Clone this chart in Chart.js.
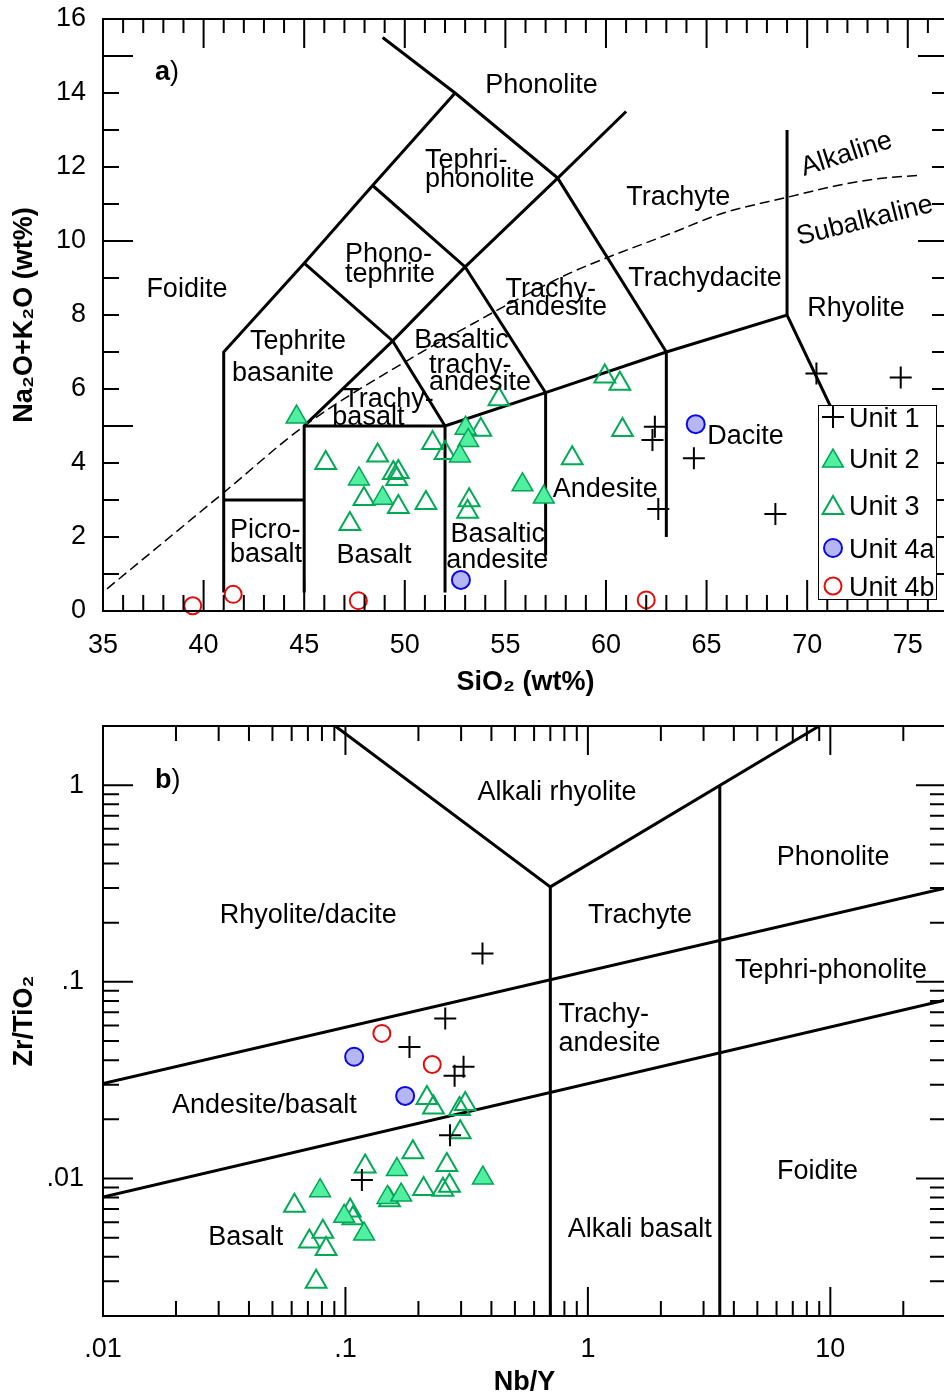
<!DOCTYPE html>
<html lang="en">
<head>
  <meta charset="UTF-8" />
  <title>TAS and Zr/TiO2 vs Nb/Y</title>
  <script src="https://cdn.jsdelivr.net/npm/chart.js"></script>
  <style>
    html, body { margin: 0; padding: 0; background: #fff; overflow: hidden; }
    .panel { position: absolute; left: 0; }
    #panelA { top: 0; }
    #panelB { top: 700px; }
  </style>
</head>
<body>
<div class="panel" id="panelA"><canvas id="tas" width="980" height="700"></canvas></div>
<div class="panel" id="panelB"><canvas id="wf" width="980" height="699"></canvas></div>

<script>
  // ---- panel a : SiO2 vs Na2O+K2O ----
  const siO2Ticks = [35, 40, 45, 50, 55, 60, 65, 70, 75];
  const alkTicks = [0, 2, 4, 6, 8, 10, 12, 14, 16];

  const unit1SiO2 = [70.46, 74.65, 62.43, 62.31, 64.37, 62.6, 68.42];
  const unit1Alk  = [6.42, 6.31, 4.98, 4.62, 4.13, 2.76, 2.62];
  const unit2SiO2 = [44.62, 47.72, 48.9, 53.02, 53.15, 52.74, 55.85, 56.91];
  const unit2Alk  = [5.24, 3.57, 3.05, 4.94, 4.61, 4.19, 3.41, 3.08];
  const unit3SiO2 = [46.07, 48.65, 49.43, 49.68, 49.6, 47.97, 49.68, 51.05, 47.27, 51.38, 52.0, 53.78, 54.68, 53.2, 53.12, 59.94, 60.69, 60.82, 58.32];
  const unit3Alk  = [4.0, 4.2, 3.73, 3.76, 3.57, 3.03, 2.81, 2.92, 2.35, 4.54, 4.27, 4.9, 5.72, 2.99, 2.68, 6.34, 6.14, 4.89, 4.13];
  const unit4aSiO2 = [64.46, 52.79];
  const unit4aAlk  = [5.05, 0.84];
  const unit4bSiO2 = [39.46, 41.47, 47.69, 62.0];
  const unit4bAlk  = [0.14, 0.45, 0.28, 0.30];

  // field boundaries (Le Bas et al.)
  const tasLines = [
    [[41, 0.5], [41, 7], [45, 9.4], [48.4, 11.5], [52.5, 14]],
    [[45, 0.5], [45, 5], [49.4, 7.3], [53, 9.3], [57.6, 11.7], [61, 13.5]],
    [[41, 3], [45, 3]],
    [[45, 5], [52, 5], [57, 5.9], [63, 7], [69, 8], [75.56, 0.5]],
    [[52, 0.5], [52, 5]],
    [[57, 1.5], [57, 5.9]],
    [[63, 2], [63, 7]],
    [[69, 8], [69, 13]],
    [[45, 9.4], [49.4, 7.3], [52, 5]],
    [[48.4, 11.5], [53, 9.3], [57, 5.9]],
    [[48.9, 15.5], [52.5, 14], [57.6, 11.7], [63, 7]]
  ];
  // alkaline / subalkaline divide
  const alkDivSiO2 = [35.2, 41, 45, 50.6, 53.4, 54.9, 58.2, 60.2, 63.2, 65.8, 69, 71.5, 73.5, 75.6];
  const alkDivAlk  = [0.6, 3.2, 5.0, 6.92, 7.77, 8.22, 9.13, 9.58, 10.2, 10.75, 11.18, 11.5, 11.68, 11.78];

  // ---- panel b : Nb/Y vs Zr/TiO2 ----
  const nbYTicks = [0.01, 0.1, 1, 10];
  const nbYTickLabels = ['.01', '.1', '1', '10'];
  const zrTiTicks = [0.01, 0.1, 1];
  const zrTiTickLabels = ['.01', '.1', '1'];

  const unit1NbY  = [0.3675, 0.258, 0.1837, 0.307, 0.282, 0.270, 0.1169];
  const unit1ZrTi = [0.1394, 0.0651, 0.0467, 0.037, 0.0333, 0.01662, 0.00982];
  const unit2NbY  = [0.163, 0.0786, 0.149, 0.1698, 0.0988, 0.1194, 0.3689];
  const unit2ZrTi = [0.0111, 0.00868, 0.00802, 0.00824, 0.00643, 0.00522, 0.01006];
  const unit3NbY  = [0.2168, 0.2307, 0.312, 0.2954, 0.2974, 0.1897, 0.1206, 0.262, 0.21, 0.2523, 0.2687, 0.0616, 0.1046, 0.1073, 0.0807, 0.0710, 0.0832, 0.0757, 0.152];
  const unit3ZrTi = [0.02566, 0.0230, 0.0239, 0.02256, 0.01717, 0.01359, 0.01153, 0.01171, 0.00885, 0.00878, 0.0092, 0.00728, 0.00687, 0.00628, 0.00537, 0.00478, 0.00438, 0.00299, 0.00775];
  const unit4aNbY  = [0.1086, 0.1763];
  const unit4aZrTi = [0.0416, 0.0263];
  const unit4bNbY  = [0.1413, 0.228];
  const unit4bZrTi = [0.0547, 0.038];

  // field boundaries (Winchester & Floyd)
  const wfLines = [
    [[0.01, 0.00806], [30, 0.0808]],
    [[0.01, 0.0304], [30, 0.300]],
    [[0.0907, 2], [0.7, 0.304], [9, 2]],
    [[0.7, 0.002], [0.7, 0.304]],
    [[3.5, 0.002], [3.5, 1.0]]
  ];

  const FONT = '"Liberation Sans", Arial, sans-serif';
  const LABEL_PX = 27;
  const TEXT_DY = 2.5; // canvas 'middle' sits a little high for this font
  const zip = (xs, ys) => xs.map((v, i) => ({ x: v, y: ys[i] }));

  const styles = {
    unit1:  { pointStyle: 'cross', radius: 11, fill: 'rgba(0,0,0,0)', stroke: '#000', lw: 2 },
    unit2:  { pointStyle: 'triangle', radius: 12, fill: 'rgb(80,240,160)', stroke: 'rgb(0,165,85)', lw: 1.5 },
    unit3:  { pointStyle: 'triangle', radius: 12, fill: 'rgba(0,0,0,0)', stroke: 'rgb(0,170,85)', lw: 2 },
    unit4a: { pointStyle: 'circle', radius: 9, fill: 'rgb(182,182,242)', stroke: 'rgb(10,10,230)', lw: 2 },
    unit4b: { pointStyle: 'circle', radius: 8.5, fill: 'rgba(0,0,0,0)', stroke: 'rgb(230,10,10)', lw: 2 }
  };

  function unitSet(label, key, data) {
    const s = styles[key];
    return {
      label, data, showLine: false, clip: false,
      pointStyle: s.pointStyle, pointRadius: s.radius,
      pointBackgroundColor: s.fill, pointBorderColor: s.stroke, pointBorderWidth: s.lw
    };
  }
  function boundarySets(lines) {
    return lines.map(l => ({
      label: 'boundary', data: l.map(p => ({ x: p[0], y: p[1] })),
      showLine: true, pointRadius: 0, borderColor: '#000', borderWidth: 3, fill: false
    }));
  }

  function drawMarker(ctx, s, x, y) {
    ctx.save();
    ctx.lineWidth = s.lw; ctx.strokeStyle = s.stroke; ctx.fillStyle = s.fill;
    ctx.beginPath();
    const r = s.radius;
    if (s.pointStyle === 'cross') {
      ctx.moveTo(x - r, y); ctx.lineTo(x + r, y);
      ctx.moveTo(x, y - r); ctx.lineTo(x, y + r);
      ctx.stroke();
    } else if (s.pointStyle === 'triangle') {
      ctx.moveTo(x, y - r); ctx.lineTo(x + r * 0.866, y + r / 2); ctx.lineTo(x - r * 0.866, y + r / 2);
      ctx.closePath(); ctx.fill(); ctx.stroke();
    } else {
      ctx.arc(x, y, r, 0, Math.PI * 2); ctx.fill(); ctx.stroke();
    }
    ctx.restore();
  }

  function drawLabels(chart, labels) {
    const { ctx, scales: { x, y } } = chart;
    ctx.save();
    ctx.fillStyle = '#000';
    ctx.textBaseline = 'middle';
    labels.forEach(l => {
      const px = x.getPixelForValue(l.x), py = y.getPixelForValue(l.y) + TEXT_DY;
      if (l.parts) {
        let cx = px;
        ctx.textAlign = 'left';
        l.parts.forEach(([t, bold]) => {
          ctx.font = (bold ? 'bold ' : '') + LABEL_PX + 'px ' + FONT;
          ctx.fillText(t, cx, py);
          cx += ctx.measureText(t).width;
        });
        return;
      }
      ctx.font = LABEL_PX + 'px ' + FONT;
      ctx.textAlign = l.a || 'left';
      if (l.rot) {
        ctx.save(); ctx.translate(px, py); ctx.rotate(l.rot * Math.PI / 180);
        ctx.fillText(l.t, 0, 0); ctx.restore();
      } else {
        ctx.fillText(l.t, px, py);
      }
    });
    ctx.restore();
  }

  function drawFrame(ctx, a) {
    ctx.beginPath();
    ctx.moveTo(a.right + 3, a.top); ctx.lineTo(a.left, a.top);
    ctx.lineTo(a.left, a.bottom); ctx.lineTo(a.right + 3, a.bottom);
    ctx.stroke();
  }

  // nudge layout padding until the plot area sits where the figure has it
  function fitArea(chart, target) {
    for (let k = 0; k < 3; k++) {
      const a = chart.chartArea;
      const p = chart.options.layout.padding;
      p.top += target.top - a.top;
      p.right += a.right - target.right;
      chart.update();
    }
  }

  // ---------------- panel a ----------------
  const tasLabels = [
    { t: 'Phonolite', x: 56.8, y: 14.27, a: 'center' },
    { t: 'Tephri-', x: 51.0, y: 12.24 },
    { t: 'phonolite', x: 51.0, y: 11.73 },
    { t: 'Trachyte', x: 63.59, y: 11.24, a: 'center' },
    { t: 'Phono-', x: 47.03, y: 9.70 },
    { t: 'tephrite', x: 47.03, y: 9.17 },
    { t: 'Foidite', x: 39.17, y: 8.76, a: 'center' },
    { t: 'Trachy-', x: 55.01, y: 8.76 },
    { t: 'andesite', x: 54.98, y: 8.27 },
    { t: 'Trachydacite', x: 61.11, y: 9.05 },
    { t: 'Rhyolite', x: 70.0, y: 8.24 },
    { t: 'Tephrite', x: 42.31, y: 7.35 },
    { t: 'basanite', x: 41.41, y: 6.49 },
    { t: 'Basaltic', x: 50.47, y: 7.37 },
    { t: 'trachy-', x: 51.2, y: 6.69 },
    { t: 'andesite', x: 51.2, y: 6.24 },
    { t: 'Trachy-', x: 46.94, y: 5.79 },
    { t: 'basalt', x: 46.4, y: 5.30 },
    { t: 'Picro-', x: 41.31, y: 2.24 },
    { t: 'basalt', x: 41.31, y: 1.58 },
    { t: 'Basalt', x: 46.61, y: 1.56 },
    { t: 'Basaltic', x: 56.97, y: 2.14, a: 'right' },
    { t: 'andesite', x: 57.13, y: 1.42, a: 'right' },
    { t: 'Andesite', x: 57.35, y: 3.36 },
    { t: 'Dacite', x: 65.03, y: 4.78 },
    { t: 'Alkaline', x: 71.96, y: 12.41, a: 'center', rot: -18 },
    { t: 'Subalkaline', x: 72.87, y: 10.61, a: 'center', rot: -14 },
    { parts: [['a', true], [')', false]], x: 37.58, y: 14.62 }
  ];

  const tasDecor = {
    id: 'tasDecor',
    afterDraw(chart) {
      const { ctx, chartArea: a, scales: { x, y } } = chart;
      ctx.save();
      ctx.strokeStyle = '#000'; ctx.lineWidth = 2;
      drawFrame(ctx, a);
      ctx.beginPath();
      for (let v = 35; v <= 77; v++) {
        const px = x.getPixelForValue(v);
        const topLen = v % 5 === 0 ? 29 : 14;
        const botLen = v % 5 === 0 ? 31 : 16;
        ctx.moveTo(px, a.top); ctx.lineTo(px, a.top + topLen);
        ctx.moveTo(px, a.bottom); ctx.lineTo(px, a.bottom - botLen);
      }
      for (let v = 0; v <= 16; v++) {
        const py = y.getPixelForValue(v);
        const len = v % 5 === 0 ? 30 : 16;
        ctx.moveTo(a.left, py); ctx.lineTo(a.left + len, py);
        ctx.moveTo(a.right, py); ctx.lineTo(a.right - len, py);
      }
      ctx.stroke();
      ctx.restore();

      drawLabels(chart, tasLabels);

      // legend box
      const bx = a.right - 130, by = 405, bw = 118, bh = 194;
      ctx.save();
      ctx.fillStyle = '#fff'; ctx.fillRect(bx, by, bw, bh);
      ctx.strokeStyle = '#000'; ctx.lineWidth = 1; ctx.strokeRect(bx + 0.5, by + 0.5, bw, bh);
      const rows = [
        ['Unit 1', 'unit1', 417], ['Unit 2', 'unit2', 458], ['Unit 3', 'unit3', 505],
        ['Unit 4a', 'unit4a', 548], ['Unit 4b', 'unit4b', 586]
      ];
      ctx.font = LABEL_PX + 'px ' + FONT;
      ctx.textAlign = 'left'; ctx.textBaseline = 'middle';
      rows.forEach(([t, key, ry]) => {
        const s = styles[key];
        drawMarker(ctx, s, bx + 15, s.pointStyle === 'triangle' ? ry + 3 : ry);
        ctx.fillStyle = '#000';
        ctx.fillText(t, bx + 31, ry + TEXT_DY);
      });
      ctx.restore();
    }
  };

  // tick labels are pushed off the axis with an invisible tick length,
  // so that the label gap does not enlarge the plot's own padding
  const hiddenGrid = len => ({ display: false, drawTicks: true, tickLength: len });

  const tasChart = new Chart(document.getElementById('tas'), {
    type: 'scatter',
    data: {
      datasets: [
        unitSet('Unit 1', 'unit1', zip(unit1SiO2, unit1Alk)),
        unitSet('Unit 2', 'unit2', zip(unit2SiO2, unit2Alk)),
        unitSet('Unit 3', 'unit3', zip(unit3SiO2, unit3Alk)),
        unitSet('Unit 4a', 'unit4a', zip(unit4aSiO2, unit4aAlk)),
        unitSet('Unit 4b', 'unit4b', zip(unit4bSiO2, unit4bAlk)),
        {
          label: 'alkaline divide', data: zip(alkDivSiO2, alkDivAlk), showLine: true,
          pointRadius: 0, borderColor: '#000', borderWidth: 1.5, borderDash: [10, 5],
          cubicInterpolationMode: 'monotone'
        },
        ...boundarySets(tasLines)
      ]
    },
    options: {
      responsive: false,
      animation: false,
      events: [],
      layout: { padding: { top: 19, right: 30, bottom: 0, left: 0 } },
      plugins: { legend: { display: false }, tooltip: { enabled: false } },
      scales: {
        x: {
          type: 'linear', min: 35, max: 77,
          afterBuildTicks: s => { s.ticks = siO2Ticks.map(v => ({ value: v })); },
          afterFit: s => { s.height = 89; },
          grid: hiddenGrid(18), border: { display: false },
          ticks: { color: '#000', font: { size: 27, family: FONT }, padding: 0, maxRotation: 0, autoSkip: false },
          title: { display: true, text: 'SiO₂ (wt%)', color: '#000', font: { size: 27, weight: 'bold', family: FONT }, padding: { top: 0, bottom: 1 } }
        },
        y: {
          type: 'linear', min: 0, max: 16,
          afterBuildTicks: s => { s.ticks = alkTicks.map(v => ({ value: v })); },
          afterFit: s => { s.width = 103; },
          grid: hiddenGrid(17), border: { display: false },
          ticks: { color: '#000', font: { size: 27, family: FONT }, padding: 0 },
          title: { display: true, text: 'Na₂O+K₂O (wt%)', color: '#000', font: { size: 27, weight: 'bold', family: FONT }, padding: { top: 8, bottom: 0 } }
        }
      }
    },
    plugins: [tasDecor]
  });
  fitArea(tasChart, { top: 19, right: 948 });

  // ---------------- panel b ----------------
  const wfLabels = [
    { t: 'Alkali rhyolite', x: 0.746, y: 0.943, a: 'center' },
    { t: 'Phonolite', x: 10.27, y: 0.444, a: 'center' },
    { t: 'Trachyte', x: 1.642, y: 0.2228, a: 'center' },
    { t: 'Rhyolite/dacite', x: 0.0703, y: 0.2228, a: 'center' },
    { t: 'Tephri-phonolite', x: 10.06, y: 0.117, a: 'center' },
    { t: 'Trachy-', x: 0.7557, y: 0.0704 },
    { t: 'andesite', x: 0.7557, y: 0.04995 },
    { t: 'Andesite/basalt', x: 0.0463, y: 0.02426, a: 'center' },
    { t: 'Foidite', x: 8.86, y: 0.01112, a: 'center' },
    { t: 'Alkali basalt', x: 1.637, y: 0.00564, a: 'center' },
    { t: 'Basalt', x: 0.0388, y: 0.00516, a: 'center' },
    { parts: [['b', true], [')', false]], x: 0.01639, y: 1.085 }
  ];

  const wfDecor = {
    id: 'wfDecor',
    afterDraw(chart) {
      const { ctx, chartArea: a, scales: { x, y } } = chart;
      ctx.save();
      ctx.strokeStyle = '#000'; ctx.lineWidth = 2;
      drawFrame(ctx, a);
      ctx.beginPath();
      for (let d = -2; d <= 1; d++) {
        for (let m = 1; m <= 9; m++) {
          const v = m * Math.pow(10, d);
          if (v > 30.01) continue;
          const px = x.getPixelForValue(v);
          const len = m === 1 ? 29 : 15;
          ctx.moveTo(px, a.top); ctx.lineTo(px, a.top + len);
          ctx.moveTo(px, a.bottom); ctx.lineTo(px, a.bottom - len);
        }
      }
      for (let d = -3; d <= 0; d++) {
        for (let m = 1; m <= 9; m++) {
          const v = m * Math.pow(10, d);
          if (v < 0.00199 || v > 2.01) continue;
          const py = y.getPixelForValue(v);
          const len = m === 1 ? 30 : 16;
          ctx.moveTo(a.left, py); ctx.lineTo(a.left + len, py);
          ctx.moveTo(a.right, py); ctx.lineTo(a.right - len, py);
        }
      }
      ctx.stroke();
      ctx.restore();
      drawLabels(chart, wfLabels);
    }
  };

  const wfChart = new Chart(document.getElementById('wf'), {
    type: 'scatter',
    data: {
      datasets: [
        unitSet('Unit 1', 'unit1', zip(unit1NbY, unit1ZrTi)),
        unitSet('Unit 2', 'unit2', zip(unit2NbY, unit2ZrTi)),
        unitSet('Unit 3', 'unit3', zip(unit3NbY, unit3ZrTi)),
        unitSet('Unit 4a', 'unit4a', zip(unit4aNbY, unit4aZrTi)),
        unitSet('Unit 4b', 'unit4b', zip(unit4bNbY, unit4bZrTi)),
        ...boundarySets(wfLines)
      ]
    },
    options: {
      responsive: false,
      animation: false,
      events: [],
      layout: { padding: { top: 26, right: 30, bottom: 0, left: 0 } },
      plugins: { legend: { display: false }, tooltip: { enabled: false } },
      scales: {
        x: {
          type: 'logarithmic', min: 0.01, max: 30,
          afterBuildTicks: s => { s.ticks = nbYTicks.map(v => ({ value: v })); },
          afterFit: s => { s.height = 83; },
          grid: hiddenGrid(17), border: { display: false },
          ticks: { color: '#000', font: { size: 27, family: FONT }, padding: 0, maxRotation: 0, autoSkip: false,
                   callback: (v, i) => nbYTickLabels[i] },
          title: { display: true, text: 'Nb/Y', color: '#000', font: { size: 27, weight: 'bold', family: FONT }, padding: { top: 0, bottom: 0 } }
        },
        y: {
          type: 'logarithmic', min: 0.002, max: 2,
          afterBuildTicks: s => { s.ticks = zrTiTicks.map(v => ({ value: v })); },
          afterFit: s => { s.width = 103; },
          grid: hiddenGrid(19), border: { display: false },
          ticks: { color: '#000', font: { size: 27, family: FONT }, padding: 0, autoSkip: false,
                   callback: (v, i) => zrTiTickLabels[i] },
          title: { display: true, text: 'Zr/TiO₂', color: '#000', font: { size: 27, weight: 'bold', family: FONT }, padding: { top: 8, bottom: 0 } }
        }
      }
    },
    plugins: [wfDecor]
  });
  fitArea(wfChart, { top: 26, right: 946 });
</script>
</body>
</html>
